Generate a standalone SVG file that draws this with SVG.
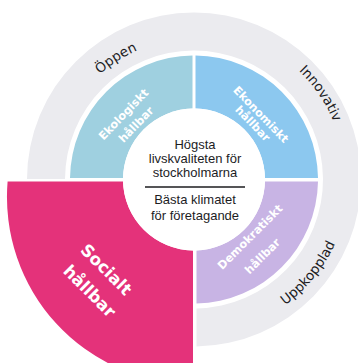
<svg xmlns="http://www.w3.org/2000/svg" width="358" height="363" viewBox="0 0 358 363">
  <style>
    .ring { fill: #ebebef; }
    .ringlabel { font-family: "DejaVu Sans", "Liberation Sans", sans-serif; font-size: 13.5px; fill: #1d1d1f; text-anchor: middle; }
    .qlabel { font-family: "DejaVu Sans", "Liberation Sans", sans-serif; font-weight: bold; font-size: 11.3px; fill: #ffffff; text-anchor: middle; }
    .qbig { font-size: 16.7px; }
    .ctext { font-family: "Liberation Sans", Arial, sans-serif; font-size: 13px; fill: #1d1d1f; text-anchor: middle; }
  </style>
  <defs>
    <path id="arcOppen" d="M 53,179.5 A 141 141 0 1 1 335,179.5 A 141 141 0 1 1 53,179.5"/>
    <path id="arcInnov" d="M 43,179.5 A 151 151 0 1 1 345,179.5 A 151 151 0 1 1 43,179.5"/>
    <path id="arcUpp" d="M 39,179.5 A 155 155 0 1 0 349,179.5 A 155 155 0 1 0 39,179.5"/>
  </defs>
  <rect x="0" y="0" width="358" height="363" fill="#ffffff"/>

  <g id="outer-ring">
    <path class="ring" d="M 27,179 A 167 167 0 1 1 196.5,346.5 L 196.5,308.5 A 129 129 0 1 0 65,179 Z"/>
    <text class="ringlabel"><textPath href="#arcOppen" startOffset="15.9%">Öppen</textPath></text>
    <text class="ringlabel"><textPath href="#arcInnov" startOffset="40.5%">Innovativ</textPath></text>
    <text class="ringlabel"><textPath href="#arcUpp" startOffset="39.1%">Uppkopplad</textPath></text>
  </g>

  <g id="ekologiskt">
    <path fill="#9fd0e0" d="M 70,178 A 124 124 0 0 1 192.5,55.5 L 192.5,108.5 A 71 71 0 0 0 123,178 Z"/>
    <text class="qlabel" transform="translate(124.2,115) rotate(-46)" y="2.9">Ekologiskt</text>
    <text class="qlabel" transform="translate(135.8,124.2) rotate(-46)" y="4.3">hållbar</text>
  </g>

  <g id="ekonomiskt">
    <path fill="#8cc8ef" d="M 195.5,55.5 A 124 124 0 0 1 318,178 L 265,178 A 71 71 0 0 0 195.5,108.5 Z"/>
    <text class="qlabel" transform="translate(261.3,114.2) rotate(46)" y="4.3">Ekonomiskt</text>
    <text class="qlabel" transform="translate(253,123.3) rotate(46)" y="4.3">hållbar</text>
  </g>

  <g id="demokratiskt">
    <path fill="#c8b4e4" d="M 318,181.5 A 124 124 0 0 1 196.5,303.5 L 196.5,250.5 A 71 71 0 0 0 265,181.5 Z"/>
    <text class="qlabel" transform="translate(249.7,236.7) rotate(-45)" y="4.3">Demokratiskt</text>
    <text class="qlabel" transform="translate(262.2,255.8) rotate(-45)" y="4.3">hållbar</text>
  </g>

  <g id="socialt">
    <path fill="#e4327a" d="M 7.6,181.5 A 187 187 0 0 0 193,384 L 193,250.5 A 71 71 0 0 1 123,181.5 Z"/>
    <text class="qlabel qbig" transform="translate(106.7,269.2) rotate(45)" y="6.3">Socialt</text>
    <text class="qlabel qbig" transform="translate(90,290.8) rotate(45)" y="6.3">hållbar</text>
  </g>

  <g id="center">
    <circle cx="194" cy="179.5" r="71" fill="#ffffff"/>
    <text class="ctext" x="195" y="149">Högsta</text>
    <text class="ctext" x="195" y="163">livskvaliteten för</text>
    <text class="ctext" x="195" y="176.5">stockholmarna</text>
    <line x1="145" y1="187" x2="245" y2="187" stroke="#1d1d1f" stroke-width="1.6"/>
    <text class="ctext" x="195" y="204">Bästa klimatet</text>
    <text class="ctext" x="195" y="219.5">för företagande</text>
  </g>
</svg>
